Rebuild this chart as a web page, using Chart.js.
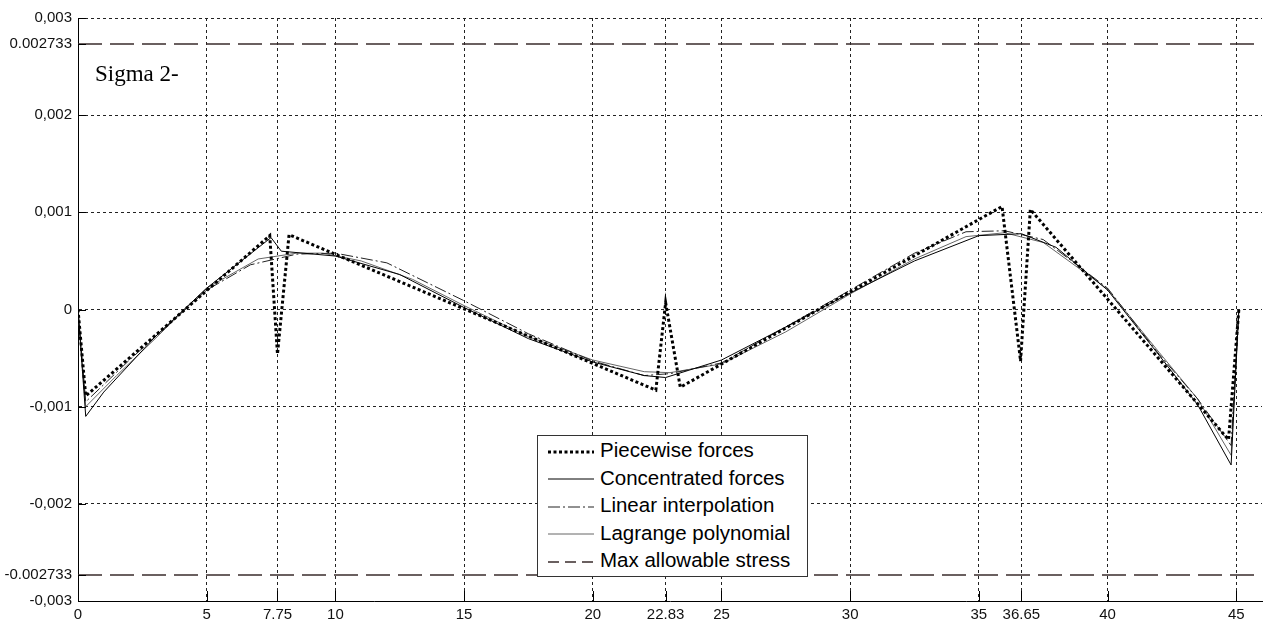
<!DOCTYPE html>
<html>
<head>
<meta charset="utf-8">
<script src="https://cdn.jsdelivr.net/npm/chart.js@4"></script>
<style>
body{margin:0;background:#fff;}
#wrap{position:relative;width:1264px;height:628px;}
#title{position:absolute;left:95px;top:61px;font:23px "Liberation Serif",serif;color:#000;}
#legend{position:absolute;left:537px;top:435px;width:269px;height:140px;border:1px solid #333;background:#fff;font:20.5px "Liberation Sans",Arial,sans-serif;color:#000;}
#legend div{height:27.5px;line-height:27.5px;white-space:nowrap;}
#legend svg{vertical-align:middle;margin:0 6px 0 10px;}
</style>
</head>
<body>
<div id="wrap">
<canvas id="graph"></canvas>
<div id="title">Sigma 2-</div>
<div id="legend"></div>
</div>
<script>
// tick labels as in the figure
const xTicks=[0,5,7.75,10,15,20,22.83,25,30,35,36.65,40,45];
const yTicks=[-0.003,-0.002733,-0.002,-0.001,0,0.001,0.002,0.002733,0.003];
const yLabels=["-0,003","-0.002733","-0,002","-0,001","0","0,001","0,002","0.002733","0,003"];

const pieceX=[0,0.3,7.45,7.75,8.2,22.45,22.83,23.4,35.9,36.62,37.0,44.7,45.1];
const pieceY=[0,-0.00089,0.00076,-0.00046,0.00077,-0.00083,0.00007,-0.0008,0.00106,-0.00053,0.00103,-0.00134,0];

const concX=[0,0.3,1,3,5,7.5,7.9,10,12.5,15,17.5,20,22,22.83,25,27.5,30,32.5,35,36.65,38,40,42,43.5,44.8,45.1];
const concY=[0,-0.0011,-0.00085,-0.00028,0.00022,0.00074,0.0006,0.00055,0.00036,0.00002,-0.0003,-0.00054,-0.00068,-0.0007,-0.00052,-0.00018,0.00017,0.0005,0.00076,0.00078,0.00064,0.0002,-0.00047,-0.00098,-0.0016,0];

const linX=[0,0.3,2,5,6.7,8.5,10,12,15,17.5,20,22,23,25,27.5,30,32.5,34.5,36,37.5,40,42,43.5,44.8,45.1];
const linY=[0,-0.00095,-0.00052,0.0002,0.00046,0.00057,0.00058,0.00048,0.00009,-0.00025,-0.00053,-0.00068,-0.00066,-0.00055,-0.00018,0.0002,0.00058,0.0008,0.00081,0.00072,0.00022,-0.00046,-0.00092,-0.0014,0];

const lagX=[0,0.3,1.5,3,5,7,8.5,9.5,11,13,15,17.5,20,22,23,25,27.5,30,32.5,34.5,36,37.5,40,42,43.5,44.8,45.1];
const lagY=[0,-0.001,-0.00068,-0.0003,0.00022,0.00052,0.00058,0.00058,0.0005,0.00031,0.00004,-0.00028,-0.00052,-0.00064,-0.00065,-0.00056,-0.00023,0.00016,0.00052,0.00075,0.00079,0.00069,0.00021,-0.00044,-0.00092,-0.0015,0];

const maxX=[0,46];
const maxStress=0.002733;

const pts=(xs,ys)=>xs.map((x,i)=>({x:x,y:ys[i]}));

const datasets=[
    {label:"Piecewise forces",data:pts(pieceX,pieceY),borderColor:"#000",borderWidth:3,borderDash:[3,2.5]},
    {label:"Concentrated forces",data:pts(concX,concY),borderColor:"#000",borderWidth:1},
    {label:"Linear interpolation",data:pts(linX,linY),borderColor:"#222",borderWidth:1,borderDash:[12,3,2,3]},
    {label:"Lagrange polynomial",data:pts(lagX,lagY),borderColor:"#666",borderWidth:1},
    {label:"Max allowable stress",data:pts(maxX,maxX.map(()=>maxStress)),borderColor:"#3a2c2c",borderWidth:1.5,borderDash:[24,8]},
    {label:"",data:pts(maxX,maxX.map(()=>-maxStress)),borderColor:"#3a2c2c",borderWidth:1.5,borderDash:[24,8]}
];
datasets.forEach(d=>{d.showLine=true;d.pointRadius=0;d.fill=false;d.tension=0;});

// short tick marks drawn inside the plot
const innerTicks={
    id:"innerTicks",
    afterDraw(chart){
        const ctx=chart.ctx, a=chart.chartArea;
        const xs=chart.scales.x, ys=chart.scales.y;
        ctx.save();
        ctx.strokeStyle="#000";
        ctx.lineWidth=1;
        ctx.beginPath();
        xTicks.forEach(v=>{
            if(v==0) return;
            const px=Math.round(xs.getPixelForValue(v))+0.5;
            ctx.moveTo(px,a.bottom);ctx.lineTo(px,a.bottom-10);
        });
        yTicks.forEach(v=>{
            const py=Math.round(ys.getPixelForValue(v))+0.5;
            ctx.moveTo(a.left,py);ctx.lineTo(a.left+8,py);
        });
        ctx.stroke();
        ctx.restore();
    }
};

new Chart("graph",{
    type:"scatter",
    data:{datasets},
    options:{
        responsive:true,
        maintainAspectRatio:false,
        animation:false,
        layout:{padding:{top:18,right:2,left:0,bottom:0}},
        plugins:{legend:{display:false},tooltip:{enabled:false}},
        scales:{
            x:{
                type:"linear",min:0,max:46,
                afterBuildTicks:s=>{s.ticks=xTicks.map(v=>({value:v}));},
                afterFit:s=>{s.height=27;},
                ticks:{
                    autoSkip:false,maxRotation:0,padding:5,color:"#111",
                    font:{family:"Liberation Sans",size:15},
                    callback:v=>String(v)
                },
                grid:{
                    drawTicks:false,
                    color:c=>(c.tick&&c.tick.value==0)?"rgba(0,0,0,0)":"#222"
                },
                border:{display:true,color:"#000",width:1,dash:[3,3]}
            },
            y:{
                type:"linear",min:-0.003,max:0.003,
                afterBuildTicks:s=>{s.ticks=yTicks.map(v=>({value:v}));},
                afterFit:s=>{s.width=78;},
                ticks:{
                    autoSkip:false,padding:6,color:"#111",
                    font:{family:"Liberation Sans",size:15},
                    callback:(v,i)=>yLabels[i]
                },
                grid:{
                    drawTicks:false,
                    color:c=>{
                        const v=c.tick?c.tick.value:null;
                        if(v==null||v==-0.003||Math.abs(v)==maxStress) return "rgba(0,0,0,0)";
                        return "#222";
                    }
                },
                border:{display:true,color:"#000",width:1,dash:[3,3]}
            }
        }
    },
    plugins:[innerTicks]
});

// legend drawn as html with the same line styles
const legendItems=[
    {text:"Piecewise forces",color:"#000",width:3,dash:"3 2.5"},
    {text:"Concentrated forces",color:"#000",width:1,dash:""},
    {text:"Linear interpolation",color:"#222",width:1,dash:"12 3 2 3"},
    {text:"Lagrange polynomial",color:"#666",width:1,dash:""},
    {text:"Max allowable stress",color:"#3a2c2c",width:1.5,dash:"11 6"}
];
const lg=document.getElementById("legend");
legendItems.forEach(it=>{
    const row=document.createElement("div");
    row.innerHTML=`<svg width="46" height="10"><line x1="0" y1="5" x2="46" y2="5" stroke="${it.color}" stroke-width="${it.width}" stroke-dasharray="${it.dash}"/></svg>${it.text}`;
    lg.appendChild(row);
});
</script>
</body>
</html>
